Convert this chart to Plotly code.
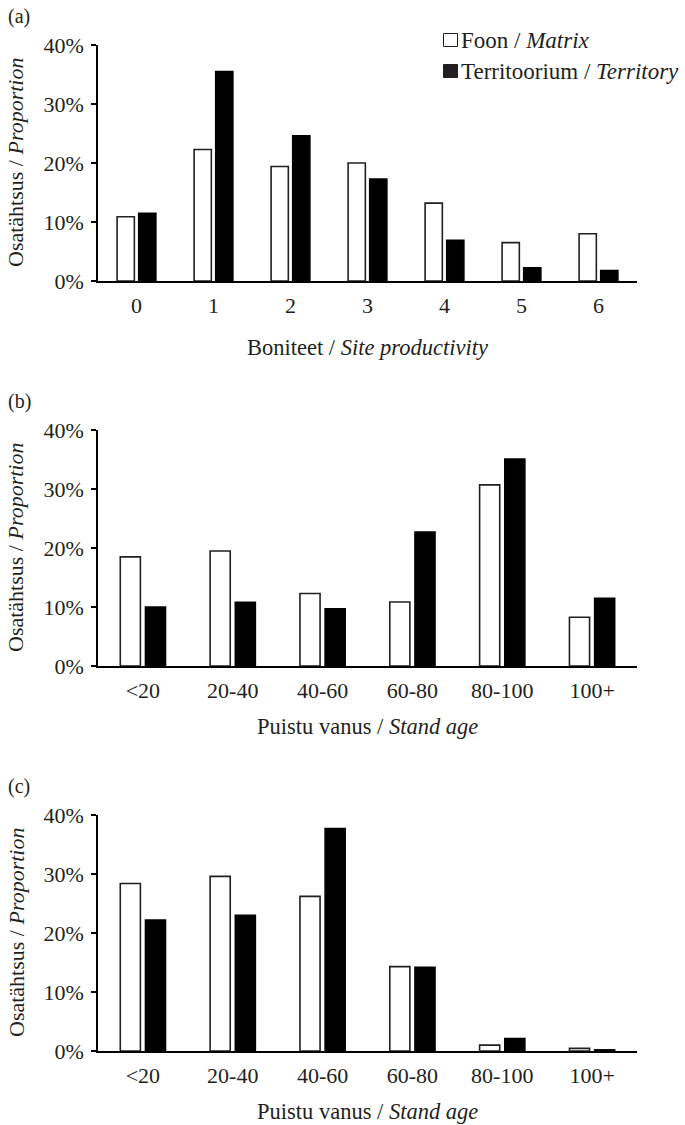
import plotly.graph_objects as go

# ---- data ----
site_cats = ["0", "1", "2", "3", "4", "5", "6"]
site_matrix = [10.9, 22.3, 19.4, 20.0, 13.2, 6.5, 8.0]
site_territory = [11.5, 35.5, 24.6, 17.3, 6.9, 2.25, 1.8]

age_cats = ["<20", "20-40", "40-60", "60-80", "80-100", "100+"]
age_b_matrix = [18.5, 19.5, 12.3, 10.85, 30.7, 8.25]
age_b_territory = [10.0, 10.8, 9.7, 22.7, 35.1, 11.5]
age_c_matrix = [28.4, 29.6, 26.2, 14.3, 1.0, 0.45]
age_c_territory = [22.2, 23.0, 37.7, 14.2, 2.1, 0.2]

y_ticks = [0, 10, 20, 30, 40]
y_tick_text = [f"{v}%" for v in y_ticks]
panel_labels = ["(a)", "(b)", "(c)"]
x_titles = ["Boniteet / <i>Site productivity</i>",
            "Puistu vanus / <i>Stand age</i>",
            "Puistu vanus / <i>Stand age</i>"]
y_title = "Osatähtsus / <i>Proportion</i>"
legend_names = ["Foon / <i>Matrix</i>", "Territoorium / <i>Territory</i>"]

# ---- layout constants ----
W, H = 685, 1125
FONT = "Liberation Serif, Times New Roman, serif"
TXT = "#231f20"
FS = 22

def py(p):  # pixel from top -> paper fraction
    return 1 - p / H

def px(p):
    return p / W

x_dom = [px(98), px(637)]
panels = [  # (top px, bottom px)
    (45, 281),
    (430, 666),
    (815, 1051),
]
title_offsets = [66, 60, 60]

fig = go.Figure()

data_sets = [
    (site_cats, site_matrix, site_territory),
    (age_cats, age_b_matrix, age_b_territory),
    (age_cats, age_c_matrix, age_c_territory),
]

for i, (cats, m, t) in enumerate(data_sets):
    xa = "x" if i == 0 else f"x{i+1}"
    ya = "y" if i == 0 else f"y{i+1}"
    fig.add_trace(go.Bar(x=cats, y=m, xaxis=xa, yaxis=ya, name="Matrix",
                         marker=dict(color="white", line=dict(color=TXT, width=1.6)),
                         showlegend=False, hoverinfo="skip"))
    fig.add_trace(go.Bar(x=cats, y=t, xaxis=xa, yaxis=ya, name="Territory",
                         marker=dict(color="#000000", line=dict(color="#000000", width=1.5)),
                         showlegend=False, hoverinfo="skip"))

layout = dict(
    width=W, height=H,
    margin=dict(l=0, r=0, t=0, b=0),
    paper_bgcolor="white", plot_bgcolor="white",
    barmode="group", bargap=0.44, bargroupgap=0.2,
    font=dict(family=FONT, size=FS, color=TXT),
    showlegend=False,
)

annotations = []
shapes = []
for i, (top, bot) in enumerate(panels):
    sfx = "" if i == 0 else str(i + 1)
    layout["xaxis" + sfx] = dict(
        domain=x_dom, anchor="y" + sfx, type="category",
        showline=True, linecolor="#000000", linewidth=1.8,
        ticks="", showgrid=False, zeroline=False,
        tickfont=dict(family=FONT, size=FS, color=TXT),
        ticklabelstandoff=4, automargin=False, fixedrange=True,
    )
    layout["yaxis" + sfx] = dict(
        domain=[py(bot), py(top)], anchor="x" + sfx,
        range=[0, 40], tickmode="array", tickvals=y_ticks, ticktext=y_tick_text,
        showline=True, linecolor="#000000", linewidth=1.8,
        ticks="outside", ticklen=5, tickwidth=1.8, tickcolor="#000000",
        showgrid=False, zeroline=False,
        tickfont=dict(family=FONT, size=FS, color=TXT),
        ticklabelstandoff=3, automargin=False, fixedrange=True,
    )
    # panel label
    annotations.append(dict(text=panel_labels[i], x=px(6), y=py(top - 29),
                            xref="paper", yref="paper", xanchor="left", yanchor="middle",
                            showarrow=False, font=dict(family=FONT, size=20, color=TXT)))
    # x title
    annotations.append(dict(text=x_titles[i], x=px(367.5), y=py(bot + title_offsets[i]),
                            xref="paper", yref="paper", xanchor="center", yanchor="middle",
                            showarrow=False, font=dict(family=FONT, size=22.5, color=TXT)))
    # y title
    annotations.append(dict(text=y_title, x=px(16), y=py((top + bot) / 2),
                            xref="paper", yref="paper", xanchor="center", yanchor="middle",
                            textangle=-90, showarrow=False,
                            font=dict(family=FONT, size=FS, color=TXT)))

# legend (panel a)
leg_rows = [(40, "white"), (71, "#231f20")]
for (cy, col), name in zip(leg_rows, legend_names):
    shapes.append(dict(type="rect", xref="paper", yref="paper",
                       x0=px(443.5), x1=px(457.5), y0=py(cy - 6.5), y1=py(cy + 6.5),
                       fillcolor=col, line=dict(color="#231f20", width=1)))
    annotations.append(dict(text=name, x=px(459), y=py(cy),
                            xref="paper", yref="paper", xanchor="left", yanchor="middle",
                            showarrow=False, font=dict(family=FONT, size=23, color=TXT)))

layout["annotations"] = annotations
layout["shapes"] = shapes
fig.update_layout(**layout)

fig.write_html("out.html", config={"displayModeBar": False, "staticPlot": True},
               post_script="document.body.style.margin='0';document.body.style.overflow='hidden';")
